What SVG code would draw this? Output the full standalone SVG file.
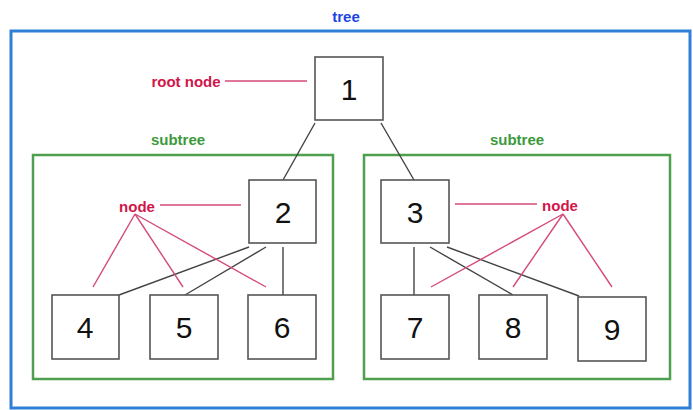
<svg xmlns="http://www.w3.org/2000/svg" width="693" height="410" viewBox="0 0 693 410">
<style>
.lbl{font-family:"Liberation Sans",Arial,sans-serif;font-weight:bold;font-size:15px;text-anchor:middle;dominant-baseline:central}
.num{font-family:"Liberation Sans",Arial,sans-serif;font-size:30px;fill:#111;text-anchor:middle;dominant-baseline:central}
.box{fill:#fff;stroke:#555;stroke-width:1.6}
.edge{stroke:#444;stroke-width:1.4;fill:none}
.ptr{stroke:#d44a78;stroke-width:1.4;fill:none}
.sub{fill:none;stroke:#4ea04e;stroke-width:2.5}
</style>
<rect width="693" height="410" fill="#fff"/>
<g id="tree">
<rect x="11" y="31" width="679" height="377" fill="none" stroke="#2f7fd8" stroke-width="3"/>
<text class="lbl" x="346" y="16" fill="#1b45e6">tree</text>
</g>
<g id="subtree-left">
<rect class="sub" x="33" y="155" width="300" height="224"/>
<text class="lbl" x="178" y="139" fill="#3c9a3c">subtree</text>
</g>
<g id="subtree-right">
<rect class="sub" x="364" y="155" width="306" height="224"/>
<text class="lbl" x="517" y="139" fill="#3c9a3c">subtree</text>
</g>
<g id="connectors">
<line class="edge" x1="315" y1="123" x2="283" y2="180"/>
<line class="edge" x1="381" y1="123" x2="414" y2="180"/>
<line class="edge" x1="249" y1="247" x2="119" y2="295"/>
<line class="edge" x1="266" y1="247" x2="185" y2="295"/>
<line class="edge" x1="283" y1="247" x2="283" y2="295"/>
<line class="edge" x1="414" y1="247" x2="414" y2="295"/>
<line class="edge" x1="430" y1="247" x2="513" y2="295"/>
<line class="edge" x1="447" y1="247" x2="579" y2="296"/>
</g>
<g id="annotations">
<text class="lbl" x="186" y="81" fill="#d0164a">root node</text>
<line class="ptr" x1="225" y1="81" x2="307" y2="81"/>
<text class="lbl" x="137" y="206" fill="#d0164a">node</text>
<line class="ptr" x1="160" y1="205" x2="241" y2="205"/>
<line class="ptr" x1="135" y1="214" x2="93" y2="287"/>
<line class="ptr" x1="135" y1="214" x2="183" y2="287"/>
<line class="ptr" x1="135" y1="214" x2="266" y2="287"/>
<text class="lbl" x="560" y="205" fill="#d0164a">node</text>
<line class="ptr" x1="455" y1="204" x2="537" y2="204"/>
<line class="ptr" x1="563" y1="214" x2="431" y2="287"/>
<line class="ptr" x1="563" y1="214" x2="513" y2="287"/>
<line class="ptr" x1="563" y1="214" x2="612" y2="287"/>
</g>
<g id="node1"><rect class="box" x="315" y="57" width="68" height="63"/><text class="num" x="349" y="89">1</text></g>
<g id="node2"><rect class="box" x="249" y="180" width="67" height="63"/><text class="num" x="283" y="212">2</text></g>
<g id="node3"><rect class="box" x="381" y="180" width="68" height="63"/><text class="num" x="415" y="212">3</text></g>
<g id="node4"><rect class="box" x="52" y="295" width="67" height="64"/><text class="num" x="85" y="327">4</text></g>
<g id="node5"><rect class="box" x="150" y="295" width="68" height="64"/><text class="num" x="184" y="327">5</text></g>
<g id="node6"><rect class="box" x="248" y="295" width="68" height="64"/><text class="num" x="282" y="327">6</text></g>
<g id="node7"><rect class="box" x="381" y="295" width="68" height="64"/><text class="num" x="415" y="327">7</text></g>
<g id="node8"><rect class="box" x="479" y="295" width="68" height="64"/><text class="num" x="513" y="327">8</text></g>
<g id="node9"><rect class="box" x="578" y="297" width="68" height="64"/><text class="num" x="612" y="329">9</text></g>
</svg>
